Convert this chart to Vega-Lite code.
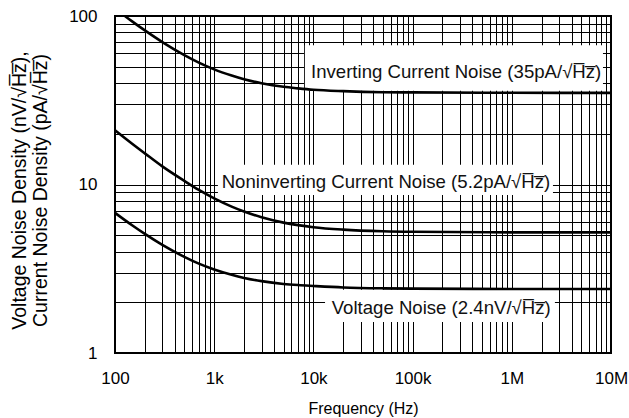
{
  "$schema": "https://vega.github.io/schema/vega-lite/v6.json",
  "width": 496,
  "height": 337,
  "autosize": {"type": "none"},
  "padding": {"left": 115, "top": 16, "right": 18, "bottom": 65},
  "background": "white",
  "config": {
    "font": "Liberation Sans",
    "view": {"stroke": "black", "strokeWidth": 2},
    "axis": {"domain": false, "ticks": false, "grid": true, "gridColor": "black", "gridOpacity": 1, "gridWidth": 1, "labelFont": "Liberation Sans", "labelFontSize": 17, "labelColor": "black", "titleFont": "Liberation Sans", "titleFontSize": 16, "titleFontWeight": "normal", "titleColor": "black", "labelOverlap": false, "labelFlush": false}
  },
  "datasets": {
    "curves": [
      {"series": "Inverting", "freq": 126, "value": 100},
      {"series": "Inverting", "freq": 150, "value": 92.6},
      {"series": "Inverting", "freq": 200, "value": 82.1},
      {"series": "Inverting", "freq": 300, "value": 70},
      {"series": "Inverting", "freq": 500, "value": 58.6},
      {"series": "Inverting", "freq": 700, "value": 52.9},
      {"series": "Inverting", "freq": 1000, "value": 48.2},
      {"series": "Inverting", "freq": 1500, "value": 44.3},
      {"series": "Inverting", "freq": 2000, "value": 42.1},
      {"series": "Inverting", "freq": 3000, "value": 39.9},
      {"series": "Inverting", "freq": 5000, "value": 38.0},
      {"series": "Inverting", "freq": 7000, "value": 37.2},
      {"series": "Inverting", "freq": 10000, "value": 36.5},
      {"series": "Inverting", "freq": 20000, "value": 35.8},
      {"series": "Inverting", "freq": 50000, "value": 35.3},
      {"series": "Inverting", "freq": 100000, "value": 35.2},
      {"series": "Inverting", "freq": 1000000, "value": 35.0},
      {"series": "Inverting", "freq": 10000000, "value": 35.0},
      {"series": "Noninverting", "freq": 100, "value": 21.0},
      {"series": "Noninverting", "freq": 150, "value": 17.4},
      {"series": "Noninverting", "freq": 200, "value": 15.3},
      {"series": "Noninverting", "freq": 300, "value": 12.8},
      {"series": "Noninverting", "freq": 500, "value": 10.5},
      {"series": "Noninverting", "freq": 700, "value": 9.28},
      {"series": "Noninverting", "freq": 1000, "value": 8.27},
      {"series": "Noninverting", "freq": 1500, "value": 7.39},
      {"series": "Noninverting", "freq": 2000, "value": 6.91},
      {"series": "Noninverting", "freq": 3000, "value": 6.39},
      {"series": "Noninverting", "freq": 5000, "value": 5.94},
      {"series": "Noninverting", "freq": 7000, "value": 5.74},
      {"series": "Noninverting", "freq": 10000, "value": 5.58},
      {"series": "Noninverting", "freq": 20000, "value": 5.40},
      {"series": "Noninverting", "freq": 50000, "value": 5.28},
      {"series": "Noninverting", "freq": 100000, "value": 5.24},
      {"series": "Noninverting", "freq": 1000000, "value": 5.2},
      {"series": "Noninverting", "freq": 10000000, "value": 5.2},
      {"series": "Voltage", "freq": 100, "value": 6.79},
      {"series": "Voltage", "freq": 150, "value": 5.71},
      {"series": "Voltage", "freq": 200, "value": 5.09},
      {"series": "Voltage", "freq": 300, "value": 4.38},
      {"series": "Voltage", "freq": 500, "value": 3.72},
      {"series": "Voltage", "freq": 700, "value": 3.39},
      {"series": "Voltage", "freq": 1000, "value": 3.13},
      {"series": "Voltage", "freq": 1500, "value": 2.91},
      {"series": "Voltage", "freq": 2000, "value": 2.79},
      {"series": "Voltage", "freq": 3000, "value": 2.67},
      {"series": "Voltage", "freq": 5000, "value": 2.57},
      {"series": "Voltage", "freq": 7000, "value": 2.53},
      {"series": "Voltage", "freq": 10000, "value": 2.5},
      {"series": "Voltage", "freq": 20000, "value": 2.45},
      {"series": "Voltage", "freq": 50000, "value": 2.42},
      {"series": "Voltage", "freq": 100000, "value": 2.41},
      {"series": "Voltage", "freq": 1000000, "value": 2.4},
      {"series": "Voltage", "freq": 10000000, "value": 2.4}
    ],
    "boxes": [
      {"f1": 8200, "f2": 8300000, "v1": 36, "v2": 67},
      {"f1": 1090, "f2": 2600000, "v1": 8.67, "v2": 13.1},
      {"f1": 13100, "f2": 2720000, "v1": 1.53, "v2": 2.37}
    ],
    "labels": [
      {"freq": 9460, "value": 46.5, "text": "Inverting Current Noise (35pA/√H̅z̅)"},
      {"freq": 1190, "value": 10.35, "text": "Noninverting Current Noise (5.2pA/√H̅z̅)"},
      {"freq": 15290, "value": 1.85, "text": "Voltage Noise (2.4nV/√H̅z̅)"}
    ]
  },
  "layer": [
    {
      "data": {"name": "boxes"},
      "mark": {"type": "rect", "fill": "white", "stroke": null},
      "encoding": {
        "x": {"field": "f1", "type": "quantitative", "scale": {"type": "log", "domain": [100, 10000000]},
          "axis": {"values": [100,200,300,400,500,600,700,800,900,1000,2000,3000,4000,5000,6000,7000,8000,9000,10000,20000,30000,40000,50000,60000,70000,80000,90000,100000,200000,300000,400000,500000,600000,700000,800000,900000,1000000,2000000,3000000,4000000,5000000,6000000,7000000,8000000,9000000,10000000],
            "labelExpr": "datum.value==100?'100':datum.value==1000?'1k':datum.value==10000?'10k':datum.value==100000?'100k':datum.value==1000000?'1M':datum.value==10000000?'10M':''",
            "labelPadding": 17, "title": "Frequency (Hz)", "titlePadding": 14}},
        "x2": {"field": "f2"},
        "y": {"field": "v1", "type": "quantitative", "scale": {"type": "log", "domain": [1, 100]},
          "axis": {"values": [1,2,3,4,5,6,7,8,9,10,20,30,40,50,60,70,80,90,100],
            "labelExpr": "datum.value==1||datum.value==10||datum.value==100 ? datum.label : ''",
            "labelPadding": 18,
            "title": ["Voltage Noise Density (nV/√H̅z̅),", "Current Noise Density (pA/√H̅z̅)"],
            "titleFontSize": 19.5,
            "titleX": -96, "titleY": 174, "titleAngle": -90, "titleAlign": "center", "titleBaseline": "middle", "titleLineHeight": 21}},
        "y2": {"field": "v2"}
      }
    },
    {
      "data": {"name": "curves"},
      "mark": {"type": "line", "color": "black", "strokeWidth": 2.6, "interpolate": "monotone"},
      "encoding": {
        "x": {"field": "freq", "type": "quantitative"},
        "y": {"field": "value", "type": "quantitative"},
        "detail": {"field": "series"}
      }
    },
    {
      "data": {"name": "labels"},
      "mark": {"type": "text", "align": "left", "baseline": "middle", "fontSize": 18.6, "font": "Liberation Sans", "color": "#111"},
      "encoding": {
        "x": {"field": "freq", "type": "quantitative"},
        "y": {"field": "value", "type": "quantitative"},
        "text": {"field": "text"}
      }
    }
  ]
}
